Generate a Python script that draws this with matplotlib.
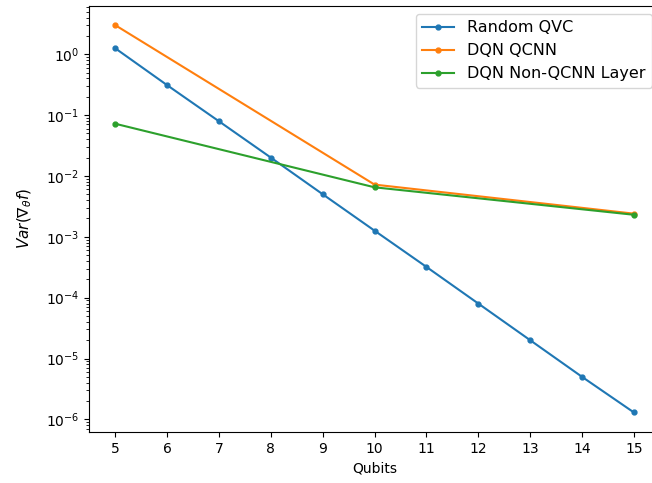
import numpy as np
import matplotlib
matplotlib.use("Agg")
import matplotlib.pyplot as plt

qubits = list(range(5, 16))
random_qvc = [1.25, 0.31, 0.079, 0.02, 0.005, 0.00126, 0.00032, 0.00008, 0.00002, 0.000005, 0.0000013]

qcnn_qubits = [5, 10, 15]
dqn_qcnn = [3.0, 0.0072, 0.0024]
dqn_non_qcnn = [0.072, 0.0065, 0.0023]

fig, ax = plt.subplots(figsize=(6.52, 4.83), dpi=100)
ax.plot(qubits, random_qvc, marker='.', ms=7, label="Random QVC")
ax.plot(qcnn_qubits, dqn_qcnn, marker='.', ms=7, label="DQN QCNN")
ax.plot(qcnn_qubits, dqn_non_qcnn, marker='.', ms=7, label="DQN Non-QCNN Layer")

ax.set_yscale('log')
ax.set_xticks(qubits)
ax.set_xlabel("Qubits")
ax.set_ylabel(r"$Var(\nabla_{\theta} f)$", fontsize=11, labelpad=9)
ax.legend(loc='upper right', fontsize=11.5)

# the original figure is cropped on the right, so the axes run past the edge
fig.subplots_adjust(left=0.137, right=1.012, bottom=0.106, top=0.988)
fig.savefig("out.png", dpi=100)
